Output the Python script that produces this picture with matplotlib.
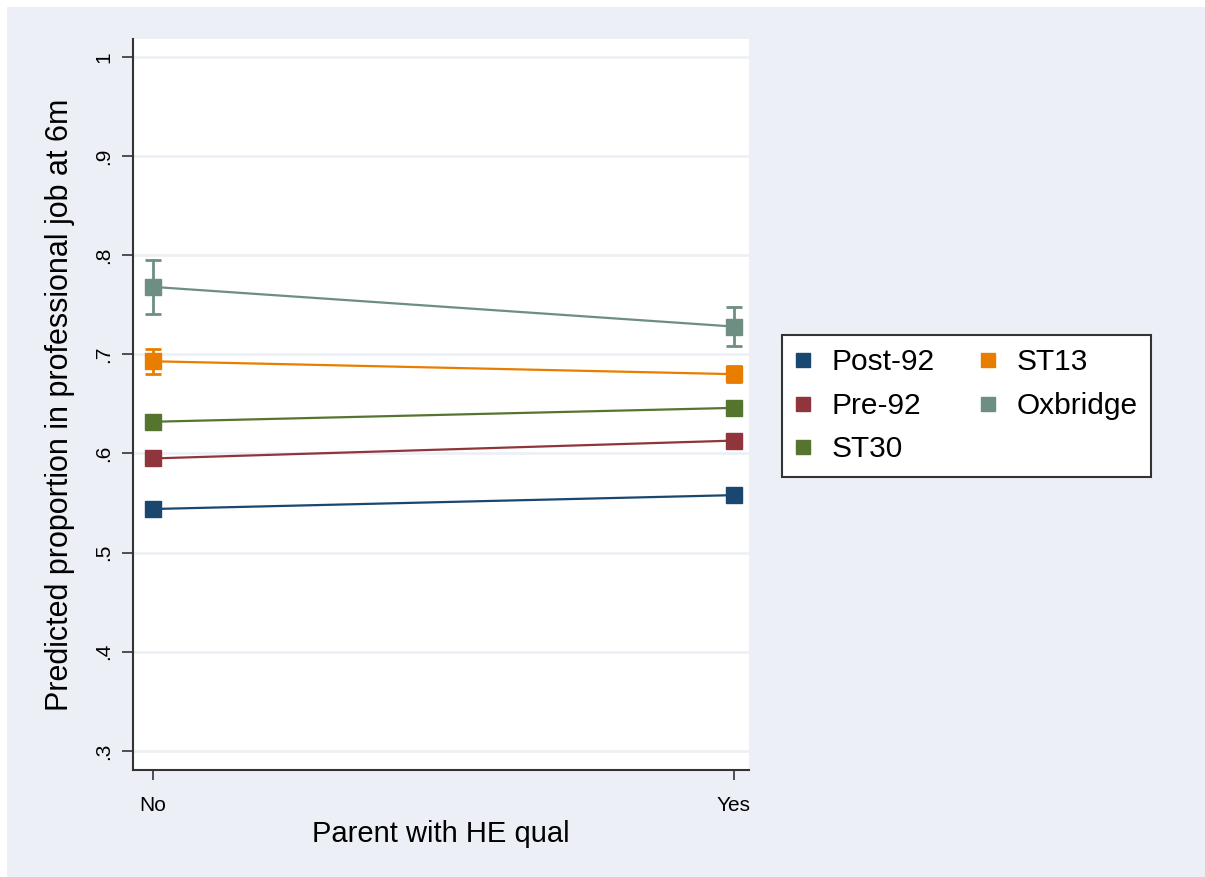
import matplotlib
matplotlib.use("Agg")
import matplotlib.pyplot as plt
from matplotlib.patches import Rectangle

plt.rcParams['font.family'] = ['Liberation Sans', 'DejaVu Sans']

# predicted proportions (margins) by parent HE qualification
x_labels = ["No", "Yes"]
groups = ["Post-92", "Pre-92", "ST30", "ST13", "Oxbridge"]
colors = ["#1A476F", "#90353B", "#55752F", "#E87D00", "#6E8E84"]

post92 = [0.544, 0.558]
post92_lo = [0.540, 0.553]
post92_hi = [0.548, 0.563]

pre92 = [0.595, 0.613]
pre92_lo = [0.590, 0.608]
pre92_hi = [0.600, 0.618]

st30 = [0.632, 0.646]
st30_lo = [0.626, 0.641]
st30_hi = [0.638, 0.651]

st13 = [0.693, 0.680]
st13_lo = [0.680, 0.672]
st13_hi = [0.705, 0.688]

oxbridge = [0.768, 0.728]
oxbridge_lo = [0.741, 0.708]
oxbridge_hi = [0.795, 0.748]

series = [
    (post92, post92_lo, post92_hi),
    (pre92, pre92_lo, pre92_hi),
    (st30, st30_lo, st30_hi),
    (st13, st13_lo, st13_hi),
    (oxbridge, oxbridge_lo, oxbridge_hi),
]

y_ticks = [0.3, 0.4, 0.5, 0.6, 0.7, 0.8, 0.9, 1.0]
y_ticklabels = [".3", ".4", ".5", ".6", ".7", ".8", ".9", "1"]

W, H = 1205, 877
bg = "#ECF0F6"
fig = plt.figure(figsize=(W / 100, H / 100), dpi=100, facecolor=bg)
# thin white strip along the top and left edges
fig.patches.append(Rectangle((0, 1 - 7 / H), 1, 7 / H, transform=fig.transFigure,
                             facecolor="white", edgecolor="none"))
fig.patches.append(Rectangle((0, 0), 7 / W, 1, transform=fig.transFigure,
                             facecolor="white", edgecolor="none"))

ax = fig.add_axes([133 / W, 1 - 770 / H, (749 - 133) / W, (770 - 39) / H])
ax.set_facecolor("white")

xs = list(range(len(x_labels)))
for (vals, lo, hi), name, c in zip(series, groups, colors):
    yerr = [[v - l for v, l in zip(vals, lo)], [h - v for v, h in zip(vals, hi)]]
    ax.errorbar(xs, vals, yerr=yerr, color=c, lw=1.6, marker="s", ms=11,
                mec=c, mfc=c, capsize=5.5, capthick=2, elinewidth=2,
                label=name, zorder=3)

ax.set_xlim(-0.0345, 1.026)
ax.set_ylim(0.2808, 1.018)
ax.set_xticks(xs)
ax.set_xticklabels(x_labels, fontsize=15)
ax.set_yticks(y_ticks)
ax.set_yticklabels(y_ticklabels, fontsize=15, rotation=90, va="center")
ax.tick_params(axis="y", length=8, width=1.2, color="#333333", pad=6)
ax.tick_params(axis="x", length=7, width=1.2, color="#333333", pad=12)

ax.grid(axis="y", color=bg, lw=2)
ax.set_axisbelow(True)
for s in ["top", "right"]:
    ax.spines[s].set_visible(False)
for s in ["left", "bottom"]:
    ax.spines[s].set_color("#333333")
    ax.spines[s].set_linewidth(1.5)

ax.set_xlabel("Parent with HE qual", fontsize=21, labelpad=3)
ax.set_ylabel("Predicted proportion in professional job at 6m", fontsize=22,
              labelpad=14)

handles = [plt.Line2D([], [], ls="none", marker="s", ms=10, color=c)
           for c in colors]
leg = fig.legend(handles, groups, ncol=2, loc="upper left",
                 bbox_to_anchor=(782 / W, 1 - 335 / H), borderaxespad=0,
                 fontsize=21.5, frameon=True, fancybox=False,
                 edgecolor="#333333", facecolor="white", framealpha=1,
                 handlelength=0.5, handletextpad=0.7, columnspacing=1.55,
                 borderpad=0.45, labelspacing=0.52)
leg.get_frame().set_linewidth(1.5)

fig.savefig("out.png", dpi=100, facecolor=bg)
